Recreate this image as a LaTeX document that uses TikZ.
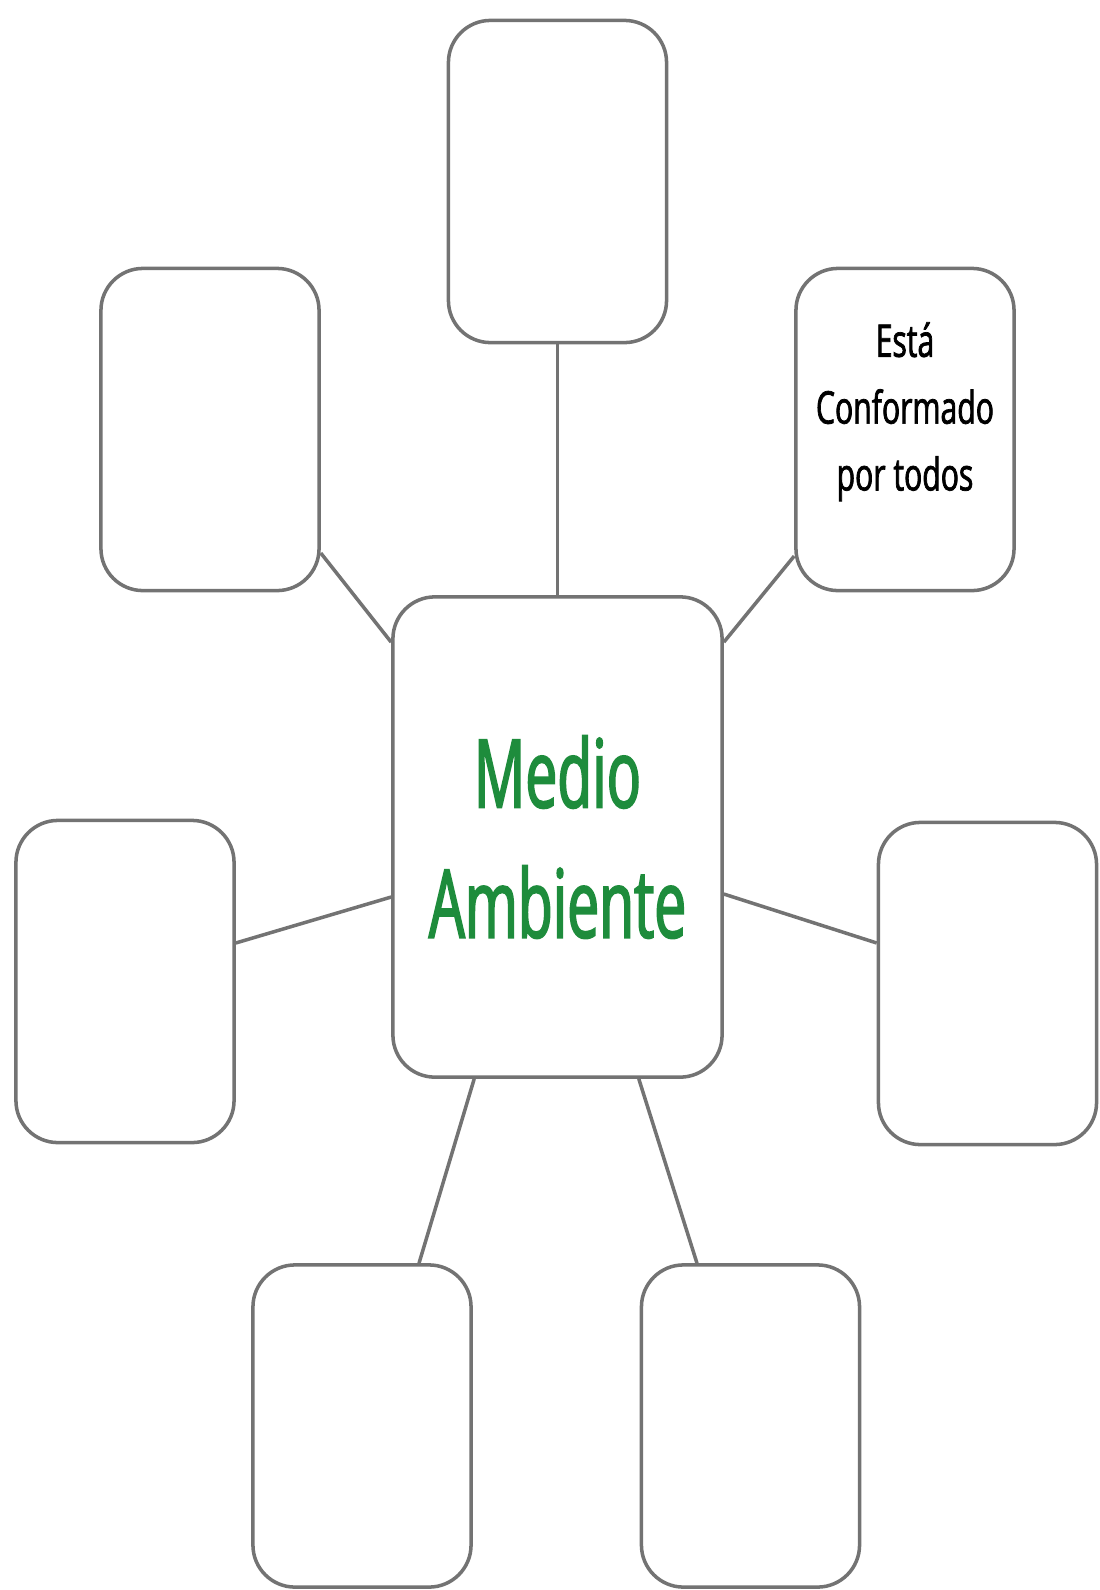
\documentclass[tikz,border=0pt]{standalone}
\usepackage{fontspec}
\usepackage{tikz}
\usetikzlibrary{shapes,positioning}
\setmainfont{Open Sans}
\newfontfamily\narrowfont[FakeStretch=0.67,FakeBold=1.6]{Open Sans}
\newfontfamily\titlefont[FakeStretch=0.6,FakeBold=1.8]{Open Sans}
\definecolor{boxgray}{RGB}{115,115,115}
\definecolor{leafgreen}{RGB}{30,140,60}
\tikzstyle{line} = [draw=boxgray, line width=1pt]

\begin{document}
\begin{tikzpicture}[x=0.01cm, y=-0.01cm,
          every node/.style={draw=boxgray, line width=1pt, rounded corners=0.42cm, fill=white, align=center},
          leaf/.style={minimum width=2.18cm, minimum height=3.22cm, font=\narrowfont\fontsize{12.8}{19}\selectfont}]
          \useasboundingbox (0,0) rectangle (1100,1590);
          \node[minimum width=3.29cm, minimum height=4.8cm, text=leafgreen,
                font=\titlefont\fontsize{27}{37}\selectfont] (medio) at (557.5,837) {Medio\\Ambiente};
          \node[leaf] (top) at (557.5,181.5) {};
          \node[leaf] (upleft) at (210,429.5) {};
          \node[leaf] (upright) at (905,429.5) {\raisebox{0.5cm}{}Está\\Conformado\\por todos\\[-0.05cm]};
          \node[leaf] (left) at (125,981.5) {};
          \node[leaf] (right) at (987.5,983.5) {};
          \node[leaf] (downleft) at (362,1426) {};
          \node[leaf] (downright) at (750.5,1426) {};
          % connectors
          \draw[line] (top.south) -- (medio.north);
          \draw[line] ([yshift=-1.235cm]upleft.east) -- ([yshift=-0.47cm]medio.north west);
          \draw[line] ([yshift=-1.265cm]upright.west) -- ([yshift=-0.47cm]medio.north east);
          \draw[line] ([yshift=0.385cm]left.east) -- ([yshift=-0.6cm]medio.west);
          \draw[line] ([yshift=-0.57cm]medio.east) -- ([yshift=0.405cm]right.west);
          \draw[line] ([xshift=0.83cm]medio.south west) -- ([xshift=0.57cm]downleft.north);
          \draw[line] ([xshift=-0.85cm]medio.south east) -- ([xshift=-0.535cm]downright.north);
        \end{tikzpicture}
\end{document}
